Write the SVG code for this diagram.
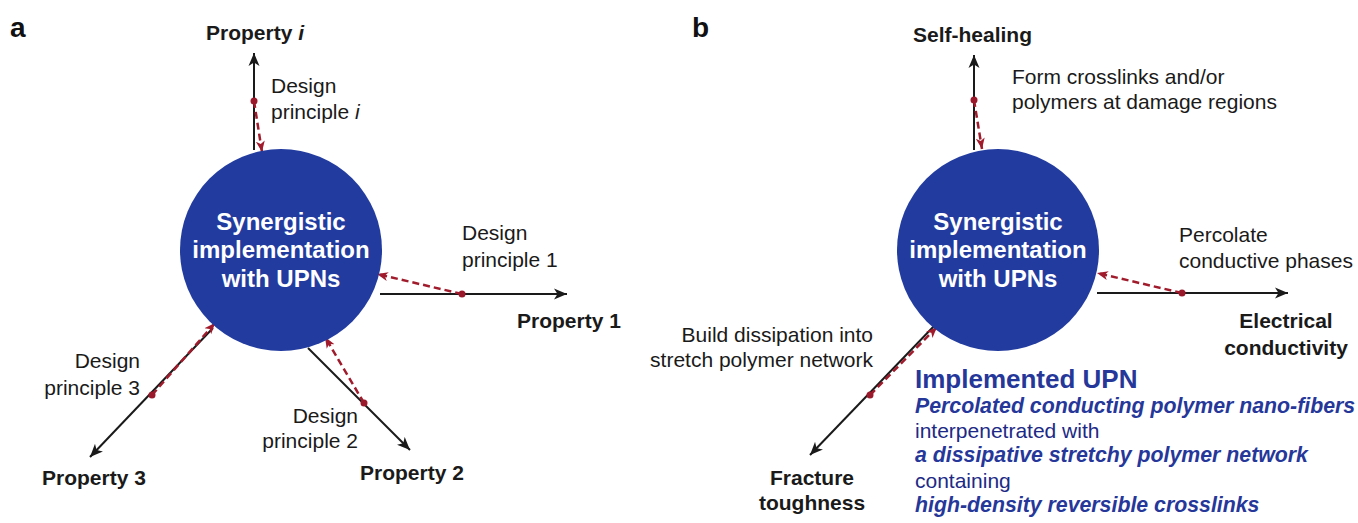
<svg xmlns="http://www.w3.org/2000/svg" width="1358" height="523" viewBox="0 0 1358 523">
<defs>
<style>
text{font-family:"Liberation Sans",Arial,Helvetica,sans-serif;fill:#1a1a1a}
.lbl{font-size:21px}
.prop{font-size:21px;font-weight:bold}
.panel{font-size:28px;font-weight:bold;fill:#111}
.hub{fill:#223b9f}
.hubt{font-size:24px;font-weight:bold;fill:#ffffff;text-anchor:middle}
.axis{stroke:#1a1a1a;stroke-width:2;fill:none;marker-end:url(#ah)}
.dp{stroke:#a01c2c;stroke-width:2.5;fill:none;stroke-dasharray:7 4;marker-end:url(#rh)}
.dot{fill:#9a1a2c}
.uh{font-size:26px;font-weight:bold;fill:#26379a}
.ub{font-size:21.3px;font-weight:bold;font-style:italic;fill:#26379a}
.ur{font-size:21px;fill:#1c2a86}
</style>
<marker id="ah" markerUnits="userSpaceOnUse" markerWidth="14" markerHeight="12" refX="13" refY="6" orient="auto">
<path d="M0,0.5 L13,6 L0,11.5 L3.5,6 z" fill="#1a1a1a"/>
</marker>
<marker id="rh" markerUnits="userSpaceOnUse" markerWidth="12" markerHeight="10" refX="11" refY="5" orient="auto">
<path d="M0,0.5 L11,5 L0,9.5 L3,5 z" fill="#a01c2c"/>
</marker>
</defs>
<rect width="1358" height="523" fill="#ffffff"/>

<text class="panel" x="10" y="37">a</text>
<text class="panel" x="692" y="37">b</text>

<g id="connectors">
<line class="axis" x1="254" y1="150" x2="254" y2="53"/>
<line class="axis" x1="380" y1="294" x2="567" y2="294"/>
<line class="axis" x1="213" y1="328" x2="90" y2="457"/>
<line class="axis" x1="308" y1="348" x2="410" y2="450"/>
<line class="dp" x1="254" y1="101" x2="262" y2="152"/>
<line class="dp" x1="462" y1="294" x2="377" y2="274"/>
<line class="dp" x1="152" y1="395" x2="215" y2="323"/>
<line class="dp" x1="364" y1="403" x2="325" y2="337"/>
<circle class="dot" cx="254" cy="101" r="3.5"/>
<circle class="dot" cx="462" cy="294" r="3.5"/>
<circle class="dot" cx="152" cy="395" r="3.5"/>
<circle class="dot" cx="364" cy="403" r="3.5"/>

<line class="axis" x1="974" y1="150" x2="974" y2="55"/>
<line class="axis" x1="1097" y1="293" x2="1288" y2="293"/>
<line class="axis" x1="935" y1="325" x2="810" y2="455"/>
<line class="dp" x1="974" y1="100" x2="982" y2="149"/>
<line class="dp" x1="1182" y1="293" x2="1097" y2="273"/>
<line class="dp" x1="870" y1="395" x2="937" y2="327"/>
<circle class="dot" cx="974" cy="100" r="3.5"/>
<circle class="dot" cx="1182" cy="293" r="3.5"/>
<circle class="dot" cx="870" cy="395" r="3.5"/>
</g>

<g id="hub-a">
<circle class="hub" cx="281" cy="250" r="101"/>
<text class="hubt" x="281" y="230">Synergistic</text>
<text class="hubt" x="281" y="258">implementation</text>
<text class="hubt" x="281" y="287">with UPNs</text>
</g>
<g id="hub-b">
<circle class="hub" cx="998" cy="250" r="101"/>
<text class="hubt" x="998" y="230">Synergistic</text>
<text class="hubt" x="998" y="258">implementation</text>
<text class="hubt" x="998" y="287">with UPNs</text>
</g>

<g id="property-i"><text class="prop" x="206" y="40">Property <tspan font-style="italic">i</tspan></text></g>
<g id="principle-i"><text class="lbl" x="271" y="93">Design</text><text class="lbl" x="271" y="119">principle <tspan font-style="italic">i</tspan></text></g>
<g id="property-1"><text class="prop" x="517" y="328">Property 1</text></g>
<g id="principle-1"><text class="lbl" x="462" y="240">Design</text><text class="lbl" x="462" y="267">principle 1</text></g>
<g id="property-3"><text class="prop" x="42" y="485">Property 3</text></g>
<g id="principle-3"><text class="lbl" x="140" y="368" text-anchor="end">Design</text><text class="lbl" x="140" y="395" text-anchor="end">principle 3</text></g>
<g id="property-2"><text class="prop" x="360" y="480">Property 2</text></g>
<g id="principle-2"><text class="lbl" x="358" y="423" text-anchor="end">Design</text><text class="lbl" x="358" y="448" text-anchor="end">principle 2</text></g>

<g id="self-healing"><text class="prop" x="913" y="42">Self-healing</text></g>
<g id="principle-heal"><text class="lbl" x="1012" y="84">Form crosslinks and/or</text><text class="lbl" x="1012" y="109">polymers at damage regions</text></g>
<g id="conductivity"><text class="prop" x="1286" y="328" text-anchor="middle">Electrical</text><text class="prop" x="1286" y="355" text-anchor="middle">conductivity</text></g>
<g id="principle-cond"><text class="lbl" x="1179" y="242">Percolate</text><text class="lbl" x="1179" y="268">conductive phases</text></g>
<g id="toughness"><text class="prop" x="812" y="485" text-anchor="middle">Fracture</text><text class="prop" x="812" y="510" text-anchor="middle">toughness</text></g>
<g id="principle-tough"><text class="lbl" x="873" y="342" text-anchor="end">Build dissipation into</text><text class="lbl" x="873" y="367" text-anchor="end">stretch polymer network</text></g>

<g id="implemented-upn">
<text class="uh" x="915" y="388">Implemented UPN</text>
<text class="ub" x="915" y="413">Percolated conducting polymer nano-fibers</text>
<text class="ur" x="915" y="438">interpenetrated with</text>
<text class="ub" x="915" y="462">a dissipative stretchy polymer network</text>
<text class="ur" x="915" y="488">containing</text>
<text class="ub" x="915" y="512">high-density reversible crosslinks</text>
</g>
</svg>
